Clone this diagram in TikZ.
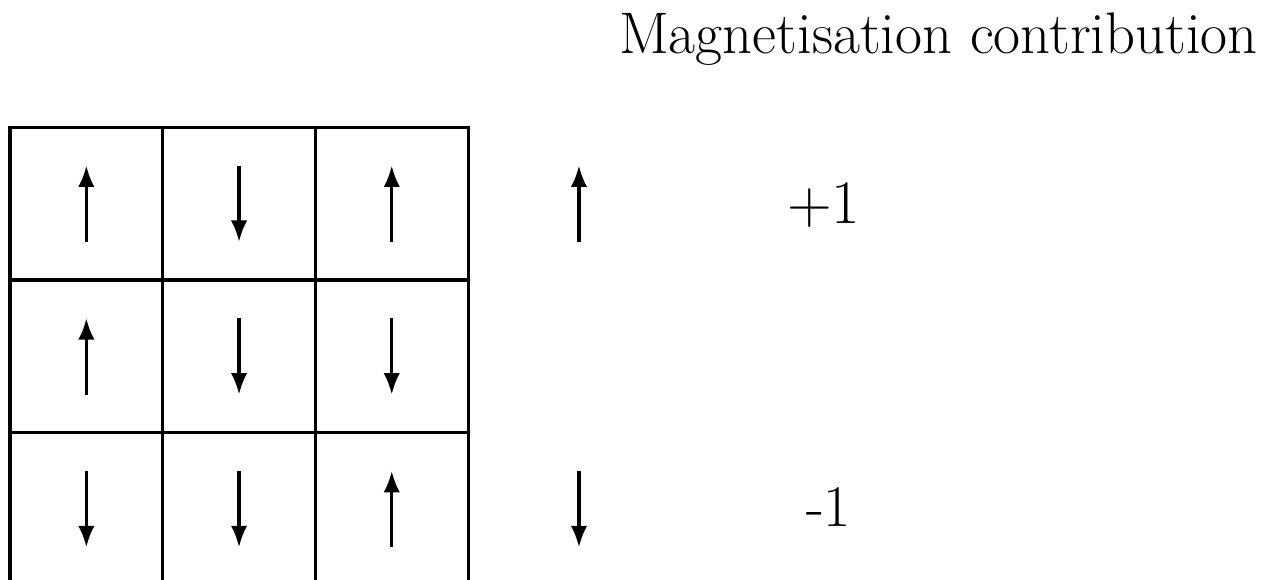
\documentclass[tikz,border=0pt]{standalone}
\usepackage{tikz}
\usetikzlibrary{arrows.meta, positioning}
\tikzset{
    cell/.style={rectangle, draw, line width=0.9pt, minimum size=15mm, inner sep=0pt, outer sep=0pt},
    spinup/.style={line width=0.9pt, -{Latex[length=6pt, width=4.6pt]}},
    spindown/.style={line width=0.9pt, {Latex[length=6pt, width=4.6pt]}-},
    title/.style={anchor=base, font=\fontsize{16.4}{20}\selectfont},
    contrib/.style={anchor=base, font=\fontsize{16.5}{20}\selectfont},
}

\begin{document}
\begin{tikzpicture}[x=15mm, y=15mm]
    \useasboundingbox (-0.0655,0.04) rectangle (8.258,3.834);
    % lattice of spins
    \foreach \s [count=\i from 0] in {up,down,up, up,down,down, down,down,up} {
        \pgfmathtruncatemacro{\r}{div(\i,3)}
        \pgfmathtruncatemacro{\c}{mod(\i,3)}
        \node[cell] (c\r\c) at (\c+0.5, 2.5-\r) {};
        \draw[spin\s] ([yshift=-3.75mm]c\r\c.center) -- ([yshift=3.75mm]c\r\c.center);
    }
    % single spins and their contribution
    \coordinate (su) at (3.726, 2.5);
    \coordinate (sd) at (3.726, 0.5);
    \draw[spinup] ([yshift=-3.75mm]su) -- ([yshift=3.75mm]su);
    \draw[spindown] ([yshift=-3.75mm]sd) -- ([yshift=3.75mm]sd);
    \node[title] (head) at (6.08, 3.483) {Magnetisation contribution};
    \node[contrib] (plus) at (5.327, 2.373) {$+1$};
    \node[contrib] (minus) at (5.36, 0.389) {-1};
\end{tikzpicture}
\end{document}
